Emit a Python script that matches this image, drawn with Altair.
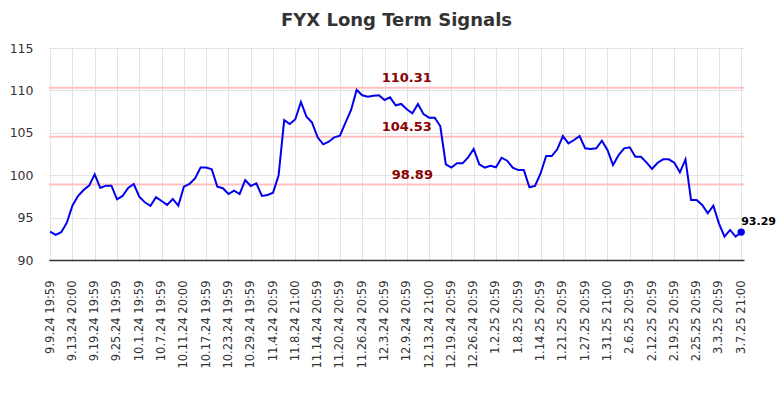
import altair as alt
import pandas as pd

tick_labels = [
    "9.9.24 19:59", "9.13.24 20:00", "9.19.24 19:59", "9.25.24 19:59",
    "10.1.24 19:59", "10.7.24 19:59", "10.11.24 20:00", "10.17.24 19:59",
    "10.23.24 19:59", "10.29.24 19:59", "11.4.24 20:59", "11.8.24 21:00",
    "11.14.24 20:59", "11.20.24 20:59", "11.26.24 20:59", "12.3.24 20:59",
    "12.9.24 20:59", "12.13.24 21:00", "12.19.24 20:59", "12.26.24 20:59",
    "1.2.25 20:59", "1.8.25 20:59", "1.14.25 20:59", "1.21.25 20:59",
    "1.27.25 20:59", "1.31.25 21:00", "2.6.25 20:59", "2.12.25 20:59",
    "2.19.25 20:59", "2.25.25 20:59", "3.3.25 20:59", "3.7.25 21:00",
]

prices = [
    93.34, 92.95, 93.27, 94.40, 96.40, 97.55, 98.25, 98.77, 100.10, 98.50,
    98.77, 98.77, 97.16, 97.55, 98.50, 98.96, 97.47, 96.80, 96.37, 97.40,
    96.96, 96.50, 97.20, 96.40, 98.65, 98.96, 99.63, 100.90, 100.90, 100.70,
    98.65, 98.46, 97.78, 98.17, 97.78, 99.43, 98.73, 99.04, 97.55, 97.67,
    97.94, 100.00, 106.50, 106.04, 106.60, 108.63, 106.90, 106.20, 104.47, 103.64,
    103.95, 104.47, 104.66, 106.20, 107.70, 110.05, 109.42, 109.26, 109.38, 109.42,
    108.87, 109.18, 108.24, 108.40, 107.77, 107.30, 108.40, 107.20, 106.78, 106.78,
    105.80, 101.29, 100.90, 101.40, 101.40, 102.10, 103.10, 101.29, 100.90, 101.10,
    100.93, 102.06, 101.71, 100.90, 100.60, 100.60, 98.57, 98.73, 100.20, 102.26,
    102.26, 103.05, 104.62, 103.76, 104.15, 104.62, 103.17, 103.10, 103.17, 104.07,
    102.97, 101.20, 102.38, 103.17, 103.29, 102.18, 102.18, 101.52, 100.73, 101.47,
    101.87, 101.87, 101.47, 100.34, 101.87, 97.08, 97.08, 96.49, 95.50, 96.40,
    94.33, 92.75, 93.54, 92.75, 93.29,
]

signal_levels = [110.31, 104.53, 98.89]
signal_label_x = [64, 64, 65]

df = pd.DataFrame({"i": list(range(len(prices))), "price": prices})
sig = pd.DataFrame({"level": signal_levels, "x": signal_label_x,
                    "txt": [f"{v:.2f}" for v in signal_levels]})
last = df.iloc[[-1]].copy()
last["txt"] = [f"{prices[-1]:.2f}"]

label_js = "[" + ",".join("'" + l + "'" for l in tick_labels) + "]"

xscale = alt.Scale(domain=[-0.2, 124.5], nice=False, zero=False)
yscale = alt.Scale(domain=[90, 115], nice=False, zero=False)

x_axis = alt.Axis(
    values=list(range(0, 125, 4)), tickCount=100,
    labelExpr=label_js + "[round(datum.value/4)]",
    labelAngle=-90, labelAlign="right", labelBaseline="middle",
    labelFontSize=11.5, labelColor="#333", labelPadding=20,
    ticks=False, tickSize=0, domain=True, domainColor="#333", domainWidth=1.5,
    grid=True, gridColor="#e3e3e3", gridWidth=1, title=None, labelOverlap=False,
)
y_axis = alt.Axis(
    values=[90, 95, 100, 105, 110, 115],
    labelFontSize=12.5, labelColor="#333", labelPadding=16,
    ticks=False, tickSize=0, domain=False,
    grid=True, gridColor="#e3e3e3", gridWidth=1, title=None,
)

base_line = alt.Chart(df).mark_line(color="#0000ee", strokeWidth=2).encode(
    x=alt.X("i:Q", scale=xscale, axis=x_axis),
    y=alt.Y("price:Q", scale=yscale, axis=y_axis),
)

rules = alt.Chart(sig).mark_rule(color="#ffc0c0", strokeWidth=2).encode(
    y=alt.Y("level:Q", scale=yscale),
)

sig_text = alt.Chart(sig).mark_text(
    color="#8b0000", fontWeight="bold", fontSize=13, baseline="bottom", dy=-3,
    font="DejaVu Sans",
).encode(
    x=alt.X("x:Q", scale=xscale),
    y=alt.Y("level:Q", scale=yscale),
    text="txt:N",
)

dot = alt.Chart(last).mark_point(filled=True, color="#0000ee", size=55, opacity=1).encode(
    x=alt.X("i:Q", scale=xscale),
    y=alt.Y("price:Q", scale=yscale),
)

dot_text = alt.Chart(last).mark_text(
    color="#000", fontWeight="bold", fontSize=11, align="left", baseline="bottom",
    dx=0, dy=-5, font="DejaVu Sans",
).encode(
    x=alt.X("i:Q", scale=xscale),
    y=alt.Y("price:Q", scale=yscale),
    text="txt:N",
)

chart = alt.layer(rules, base_line, sig_text, dot, dot_text).properties(
    width=695, height=212,
    title=alt.TitleParams("FYX Long Term Signals", fontSize=18, fontWeight="bold",
                          color="#333", offset=12, anchor="middle", font="DejaVu Sans"),
    autosize=alt.AutoSizeParams(type="none"),
    padding={"left": 41, "top": 40, "right": 32, "bottom": 120},
).configure_view(stroke=None).configure_axis(labelFont="DejaVu Sans")

chart.save("out.html", embed_options={"renderer": "svg", "actions": False})
